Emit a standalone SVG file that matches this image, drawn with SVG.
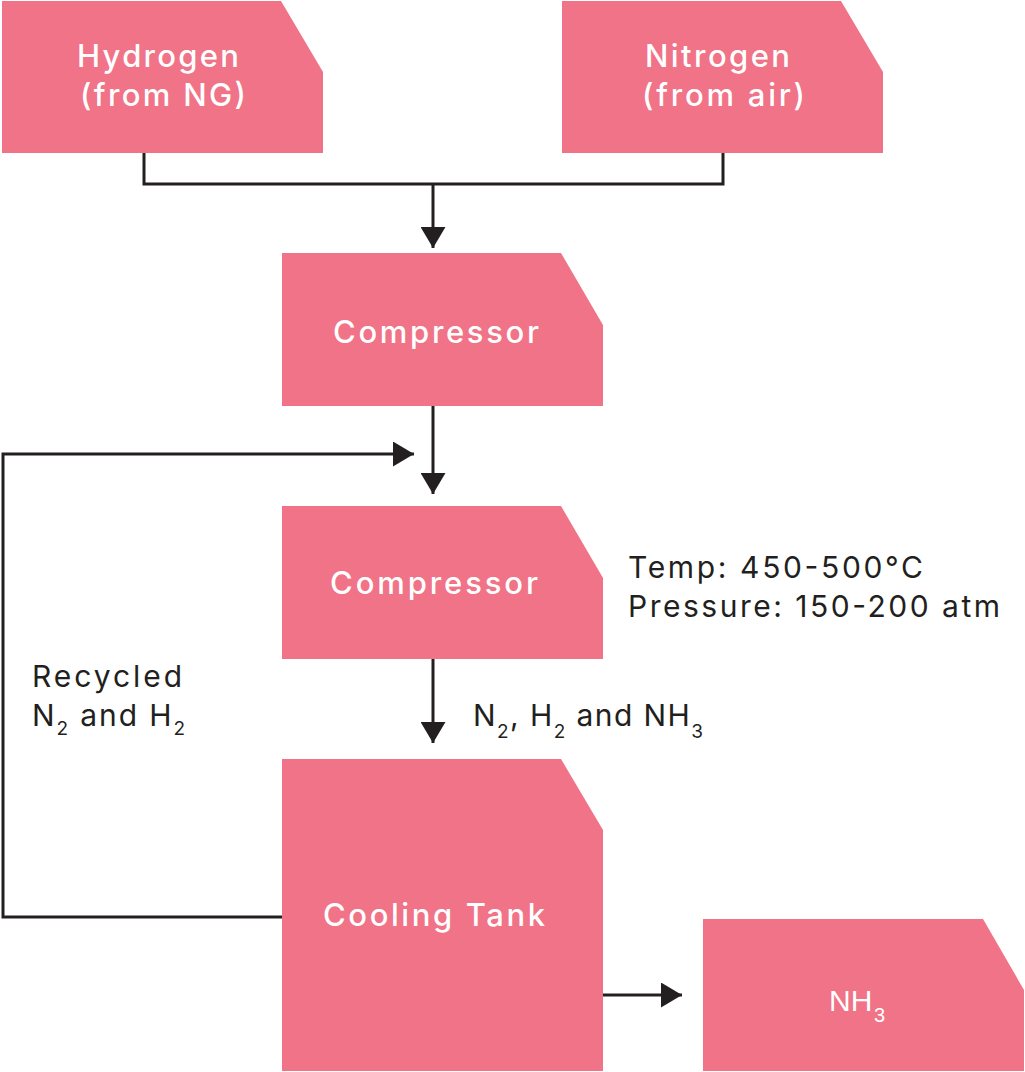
<svg xmlns="http://www.w3.org/2000/svg" width="1025" height="1072" viewBox="0 0 1025 1072">
<defs>
<style>
.box{fill:#F07387;}
.lbl{fill:#FFFFFF;font-family:Inter,"Open Sans","Liberation Sans",sans-serif;font-size:31px;font-weight:500;}
.txt{fill:#231F20;font-family:Inter,"Open Sans","Liberation Sans",sans-serif;font-size:30px;font-weight:400;}
.sub{font-size:19px;}
.con{fill:none;stroke:#231F20;stroke-width:3;}
</style>
<marker id="arr" viewBox="0 0 21 25" refX="21" refY="12.5" markerWidth="21" markerHeight="25" markerUnits="userSpaceOnUse" orient="auto">
<path d="M0,0 L21,12.5 L0,25 z" fill="#231F20"/>
</marker>
</defs>
<rect width="1025" height="1072" fill="#FFFFFF"/>
<g id="connectors">
<path class="con" d="M144,153 V184 H723 V153"/>
<path class="con" d="M433,184 V248" marker-end="url(#arr)"/>
<path class="con" d="M433,406 V494" marker-end="url(#arr)"/>
<path class="con" d="M282,917 H3 V454 H414" marker-end="url(#arr)"/>
<path class="con" d="M433,659 V743" marker-end="url(#arr)"/>
<path class="con" d="M603,995 H682" marker-end="url(#arr)"/>
</g>
<g id="hydrogen">
<polygon class="box" points="2,1 281,1 323,72 323,153 2,153"/>
<text class="lbl" x="77" y="67" textLength="162" lengthAdjust="spacing">Hydrogen</text>
<text class="lbl" x="80" y="106" textLength="166" lengthAdjust="spacing">(from NG)</text>
</g>
<g id="nitrogen">
<polygon class="box" points="562,1 841,1 883,72 883,153 562,153"/>
<text class="lbl" x="645" y="67" textLength="145" lengthAdjust="spacing">Nitrogen</text>
<text class="lbl" x="642" y="106" textLength="163" lengthAdjust="spacing">(from air)</text>
</g>
<g id="compressor1">
<polygon class="box" points="282,253 561,253 603,325 603,406 282,406"/>
<text class="lbl" x="333" y="343" textLength="206" lengthAdjust="spacing">Compressor</text>
</g>
<g id="compressor2">
<polygon class="box" points="282,506 561,506 603,578 603,659 282,659"/>
<text class="lbl" x="330" y="594" textLength="208" lengthAdjust="spacing">Compressor</text>
</g>
<g id="conditions">
<text class="txt" x="628" y="578" textLength="295" lengthAdjust="spacing">Temp: 450-500°C</text>
<text class="txt" x="628" y="617" textLength="372" lengthAdjust="spacing">Pressure: 150-200 atm</text>
</g>
<g id="recycled-label">
<text class="txt" x="32" y="687" textLength="150" lengthAdjust="spacing">Recycled</text>
<text class="txt" x="32" y="726" textLength="153" lengthAdjust="spacing">N<tspan class="sub" dy="9">2</tspan><tspan dy="-9"> and H</tspan><tspan class="sub" dy="9">2</tspan></text>
</g>
<g id="flow-label">
<text class="txt" x="473" y="726" textLength="230" lengthAdjust="spacing">N<tspan class="sub" dy="12">2</tspan><tspan dy="-12">, H</tspan><tspan class="sub" dy="12">2</tspan><tspan dy="-12"> and NH</tspan><tspan class="sub" dy="12">3</tspan></text>
</g>
<g id="cooling-tank">
<polygon class="box" points="282,759 561,759 603,830 603,1071 282,1071"/>
<text class="lbl" x="323" y="926" textLength="222" lengthAdjust="spacing">Cooling Tank</text>
</g>
<g id="nh3">
<polygon class="box" points="703,919 983,919 1024,990 1024,1071 703,1071"/>
<text style="fill:#FFFFFF;font-family:'Liberation Sans',Arial,sans-serif;font-size:30px;"><tspan x="829" y="1011">NH</tspan><tspan x="874" y="1022" style="font-size:20px;">3</tspan></text>
</g>
</svg>
